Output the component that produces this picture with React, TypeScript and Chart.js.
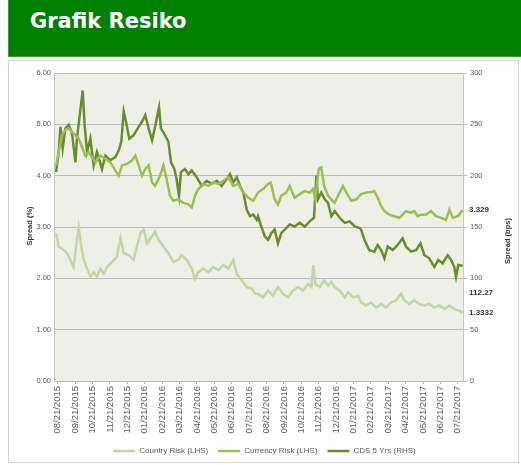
import { useEffect, useRef } from "react";
import { Chart, registerables } from "chart.js";

Chart.register(...registerables);

const monthLabels = [
  "08/21/2015", "09/21/2015", "10/21/2015", "11/21/2015", "12/21/2015",
  "01/21/2016", "02/21/2016", "03/21/2016", "04/21/2016", "05/21/2016",
  "06/21/2016", "07/21/2016", "08/21/2016", "09/21/2016", "10/21/2016",
  "11/21/2016", "12/21/2016", "01/21/2017", "02/21/2017", "03/21/2017",
  "04/21/2017", "05/21/2017", "06/21/2017", "07/21/2017",
];

const leftTicks = [0, 1, 2, 3, 4, 5, 6];
const rightTicks = [0, 50, 100, 150, 200, 250, 300];

// [months since 08/21/2015, spread %]
const countryRisk: [number, number][] = [
  [-0.1, 2.88], [0.05, 2.62], [0.34, 2.55], [0.53, 2.49], [0.72, 2.36], [0.91, 2.22], [1.05, 2.62],
  [1.2, 2.98], [1.35, 2.62], [1.49, 2.36], [1.68, 2.19], [1.87, 2.03], [2.06, 2.12], [2.25, 2.03],
  [2.45, 2.19], [2.64, 2.09], [2.83, 2.22], [3.12, 2.32], [3.4, 2.42], [3.6, 2.78], [3.79, 2.49],
  [4.08, 2.45], [4.36, 2.36], [4.55, 2.62], [4.75, 2.88], [4.94, 2.95], [5.13, 2.68], [5.42, 2.82],
  [5.59, 2.91], [5.78, 2.75], [6.07, 2.62], [6.36, 2.49], [6.64, 2.32], [6.93, 2.36], [7.12, 2.45],
  [7.41, 2.36], [7.7, 2.19], [7.89, 1.99], [8.08, 2.12], [8.37, 2.19], [8.66, 2.12], [8.94, 2.22],
  [9.23, 2.16], [9.52, 2.26], [9.81, 2.19], [10.09, 2.36], [10.29, 2.09], [10.57, 1.96], [10.86, 1.83],
  [11.15, 1.8], [11.34, 1.7], [11.51, 1.7], [11.8, 1.63], [12.09, 1.76], [12.37, 1.66], [12.66, 1.83],
  [12.95, 1.7], [13.24, 1.63], [13.52, 1.76], [13.81, 1.83], [14.1, 1.76], [14.39, 1.89], [14.58, 1.83],
  [14.69, 2.26], [14.81, 1.89], [15.06, 1.83], [15.31, 1.96], [15.54, 1.86], [15.73, 1.93], [15.92, 1.83],
  [16.21, 1.76], [16.5, 1.63], [16.69, 1.73], [16.98, 1.63], [17.26, 1.66], [17.44, 1.53], [17.72, 1.47],
  [18.01, 1.53], [18.3, 1.43], [18.59, 1.5], [18.87, 1.43], [19.16, 1.53], [19.45, 1.57], [19.74, 1.7],
  [19.93, 1.57], [20.21, 1.5], [20.5, 1.57], [20.79, 1.5], [21.08, 1.47], [21.36, 1.5], [21.65, 1.43],
  [21.94, 1.47], [22.23, 1.4], [22.51, 1.47], [22.8, 1.4], [23.09, 1.37], [23.28, 1.3332],
];

// [months since 08/21/2015, spread %]
const currencyRisk: [number, number][] = [
  [-0.1, 4.2], [0.05, 4.46], [0.24, 4.79], [0.43, 4.89], [0.62, 4.92], [0.91, 4.82], [1.2, 4.72],
  [1.39, 4.56], [1.58, 4.39], [1.77, 4.46], [1.97, 4.36], [2.16, 4.26], [2.45, 4.39], [2.73, 4.33],
  [3.02, 4.26], [3.31, 4.1], [3.5, 4.0], [3.69, 4.2], [3.98, 4.23], [4.27, 4.3], [4.46, 4.39],
  [4.65, 4.2], [4.84, 4.0], [5.03, 4.13], [5.22, 4.2], [5.42, 3.87], [5.59, 3.8], [5.88, 4.0],
  [6.07, 4.2], [6.26, 3.93], [6.45, 3.61], [6.64, 3.51], [6.93, 3.54], [7.22, 3.47], [7.51, 3.44],
  [7.7, 3.38], [7.89, 3.61], [8.08, 3.74], [8.37, 3.84], [8.66, 3.8], [8.94, 3.87], [9.23, 3.84],
  [9.52, 3.9], [9.81, 3.97], [10.09, 3.8], [10.38, 3.84], [10.67, 3.67], [10.96, 3.57], [11.24, 3.51],
  [11.51, 3.67], [11.8, 3.74], [12.09, 3.84], [12.24, 3.87], [12.47, 3.54], [12.66, 3.44], [12.85, 3.61],
  [13.14, 3.67], [13.33, 3.8], [13.62, 3.57], [13.91, 3.64], [14.2, 3.7], [14.48, 3.67], [14.68, 3.74],
  [14.81, 3.54], [15.0, 4.13], [15.15, 4.16], [15.31, 3.8], [15.54, 3.61], [15.73, 3.54], [15.92, 3.47],
  [16.11, 3.61], [16.4, 3.8], [16.59, 3.67], [16.88, 3.51], [17.17, 3.54], [17.44, 3.64], [17.72, 3.67],
  [18.01, 3.68], [18.2, 3.7], [18.39, 3.57], [18.59, 3.41], [18.78, 3.31], [19.06, 3.24], [19.35, 3.21],
  [19.64, 3.18], [19.83, 3.24], [20.02, 3.31], [20.31, 3.28], [20.5, 3.31], [20.69, 3.21], [20.89, 3.24],
  [21.17, 3.24], [21.46, 3.31], [21.75, 3.21], [22.04, 3.18], [22.32, 3.14], [22.52, 3.34], [22.71, 3.18],
  [23.0, 3.21], [23.28, 3.329],
];

// [months since 08/21/2015, spread bps]
const cds5y: [number, number][] = [
  [-0.1, 203.5], [0.05, 223], [0.15, 247.5], [0.28, 226.5], [0.43, 246], [0.62, 249.5], [0.82, 241],
  [1.01, 213], [1.1, 236], [1.24, 256], [1.43, 283], [1.54, 249.5], [1.68, 223], [1.87, 236],
  [2.06, 210], [2.25, 223], [2.54, 206.5], [2.73, 219.5], [3.02, 215], [3.31, 218], [3.5, 224.5],
  [3.65, 233], [3.79, 262.5], [3.92, 252.5], [4.11, 236], [4.36, 239.5], [4.65, 247.5], [4.84, 252.5],
  [5.03, 259], [5.22, 246], [5.42, 234.5], [5.59, 247.5], [5.82, 266.5], [5.93, 246], [6.16, 239.5],
  [6.36, 233], [6.51, 213], [6.7, 206.5], [6.83, 196.5], [6.97, 180.5], [7.08, 203.5], [7.31, 206.5],
  [7.51, 201.5], [7.7, 205], [7.99, 198.5], [8.27, 190], [8.56, 195], [8.85, 192], [9.14, 195],
  [9.42, 190], [9.71, 196.5], [9.9, 201.5], [10.09, 193.5], [10.29, 198.5], [10.48, 190], [10.67, 183.5],
  [10.86, 167], [11.05, 160.5], [11.24, 162], [11.44, 157], [11.51, 160.5], [11.7, 150.5], [11.9, 141],
  [12.09, 137.5], [12.28, 144], [12.47, 147.5], [12.66, 134], [12.85, 144], [13.05, 147.5], [13.33, 152.5],
  [13.62, 150.5], [13.91, 154], [14.2, 150.5], [14.48, 155.5], [14.73, 159], [14.87, 200], [14.96, 177],
  [15.15, 183.5], [15.35, 177], [15.54, 173.5], [15.73, 160.5], [15.92, 165.5], [16.21, 159], [16.5, 154],
  [16.78, 155.5], [17.07, 150.5], [17.36, 149], [17.44, 147.5], [17.63, 137.5], [17.91, 127.5], [18.2, 126],
  [18.39, 132.5], [18.59, 127.5], [18.78, 119.5], [18.97, 131], [19.26, 127.5], [19.54, 132.5], [19.83, 139],
  [20.02, 131], [20.31, 126], [20.6, 127.5], [20.85, 134], [21.08, 122.5], [21.36, 119.5], [21.65, 111],
  [21.88, 118], [22.13, 114.5], [22.42, 122.5], [22.61, 118], [22.8, 111], [22.9, 101.5], [23.03, 113],
  [23.28, 112.27],
];

const seriesNames = ["Country Risk (LHS)", "Currency Risk (LHS)", "CDS 5 Yrs (RHS)"];
const seriesColors = ["#c4d6a4", "#9dbf52", "#6a8c30"];
const lastLabels = ["1.3332", "3.329", "112.27"];

const FONT = "'Liberation Sans', Arial, sans-serif";

export default function App() {
  const ref = useRef<HTMLCanvasElement>(null);

  useEffect(() => {
    const toPts = (arr: [number, number][]) => arr.map(([x, y]) => ({ x, y }));

    const decor = {
      id: "decor",
      beforeDraw(chart: any) {
        const { ctx, chartArea: a } = chart;
        ctx.save();
        ctx.fillStyle = "#ffffff";
        ctx.fillRect(0, 0, chart.width, chart.height);
        ctx.fillStyle = "#eef0e8";
        ctx.fillRect(a.left, a.top, a.right - a.left, a.bottom - a.top);
        ctx.strokeStyle = "#d4d4d4";
        ctx.lineWidth = 1;
        ctx.strokeRect(0.5, 2.5, 510, 402);
        ctx.restore();
      },
      afterDraw(chart: any) {
        const { ctx } = chart;
        const yL = chart.scales.y;
        const yR = chart.scales.y1;
        ctx.save();
        ctx.fillStyle = "#333333";
        ctx.font = `bold 7.5px ${FONT}`;
        ctx.textAlign = "center";
        ctx.textBaseline = "middle";
        ctx.save();
        ctx.translate(22, 168);
        ctx.rotate(-Math.PI / 2);
        ctx.fillText("Spread (%)", 0, 0);
        ctx.restore();
        ctx.save();
        ctx.translate(500, 183);
        ctx.rotate(-Math.PI / 2);
        ctx.fillText("Spread (bps)", 0, 0);
        ctx.restore();

        ctx.font = `bold 8px ${FONT}`;
        ctx.textAlign = "left";
        const lx = yR.left + 6;
        const cLast = countryRisk[countryRisk.length - 1][1];
        const uLast = currencyRisk[currencyRisk.length - 1][1];
        const dLast = cds5y[cds5y.length - 1][1];
        ctx.fillText(lastLabels[1], lx, yL.getPixelForValue(uLast));
        ctx.fillText(lastLabels[2], lx, yR.getPixelForValue(dLast) + 27);
        ctx.fillText(lastLabels[0], lx, yL.getPixelForValue(cLast));
        ctx.restore();
      },
    };

    const chart = new Chart(ref.current!, {
      type: "line",
      data: {
        datasets: [
          {
            label: seriesNames[0],
            data: toPts(countryRisk),
            borderColor: seriesColors[0],
            backgroundColor: seriesColors[0],
            borderWidth: 2.5,
            pointRadius: 0,
            pointStyle: "line",
            tension: 0,
            yAxisID: "y",
          },
          {
            label: seriesNames[1],
            data: toPts(currencyRisk),
            borderColor: seriesColors[1],
            backgroundColor: seriesColors[1],
            borderWidth: 2.5,
            pointRadius: 0,
            pointStyle: "line",
            tension: 0,
            yAxisID: "y",
          },
          {
            label: seriesNames[2],
            data: toPts(cds5y),
            borderColor: seriesColors[2],
            backgroundColor: seriesColors[2],
            borderWidth: 2.5,
            pointRadius: 0,
            pointStyle: "line",
            tension: 0,
            yAxisID: "y1",
          },
        ],
      },
      options: {
        animation: false,
        responsive: false,
        devicePixelRatio: 1,
        layout: { padding: { top: 15, left: 0, right: 0, bottom: 0 } },
        plugins: {
          tooltip: { enabled: false },
          legend: {
            position: "bottom",
            labels: {
              usePointStyle: true,
              pointStyle: "line",
              pointStyleWidth: 22,
              padding: 10,
              color: "#595959",
              font: { family: FONT, size: 8 },
            },
          },
        },
        scales: {
          x: {
            type: "linear",
            min: -0.22,
            max: 23.3,
            afterBuildTicks: (s: any) => {
              s.ticks = monthLabels.map((_, i) => ({ value: i }));
            },
            afterFit: (s: any) => {
              s.height = 56;
            },
            ticks: {
              autoSkip: false,
              minRotation: 90,
              maxRotation: 90,
              padding: 2,
              color: "#595959",
              font: { family: FONT, size: 9.5 },
              callback: (v: any) => monthLabels[Math.round(Number(v))] ?? "",
            },
            grid: { drawOnChartArea: false, drawTicks: true, tickLength: 3, color: "#b8b8b8" },
            border: { display: true, color: "#bcbcbc" },
          },
          y: {
            position: "left",
            min: 0,
            max: 6,
            afterBuildTicks: (s: any) => {
              s.ticks = leftTicks.map((v) => ({ value: v }));
            },
            afterFit: (s: any) => {
              s.width = 46;
            },
            ticks: {
              padding: 3,
              color: "#595959",
              font: { family: FONT, size: 7.5 },
              callback: (v: any) => Number(v).toFixed(2),
            },
            grid: { drawOnChartArea: true, drawTicks: false, color: "#bdbdbd" },
            border: { display: true, color: "#c8c8c8" },
          },
          y1: {
            position: "right",
            min: 0,
            max: 300,
            afterBuildTicks: (s: any) => {
              s.ticks = rightTicks.map((v) => ({ value: v }));
            },
            afterFit: (s: any) => {
              s.width = 58;
            },
            ticks: {
              padding: 3,
              color: "#595959",
              font: { family: FONT, size: 7.5 },
              callback: (v: any) => String(v),
            },
            grid: { drawOnChartArea: false, drawTicks: true, tickLength: 4, color: "#bdbdbd" },
            border: { display: true, color: "#c8c8c8" },
          },
        },
      },
      plugins: [decor],
    } as any);

    return () => chart.destroy();
  }, []);

  return (
    <div
      style={{
        position: "fixed",
        left: 8,
        top: 0,
        width: 513,
        height: 465,
        overflow: "hidden",
        background: "#ffffff",
      }}
    >
      <div
        style={{
          height: 57,
          boxSizing: "border-box",
          background: "#007f00",
          borderLeft: "1px solid #3f9a3f",
          borderBottom: "1px solid #3f9a3f",
          padding: "11px 0 0 21px",
          color: "#ffffff",
          font: "bold 21px/21px 'DejaVu Sans', sans-serif",
        }}
      >
        Grafik Resiko
      </div>
      <canvas
        ref={ref}
        width={513}
        height={407}
        style={{ display: "block", width: 513, height: 407, marginTop: 1 }}
      />
    </div>
  );
}
